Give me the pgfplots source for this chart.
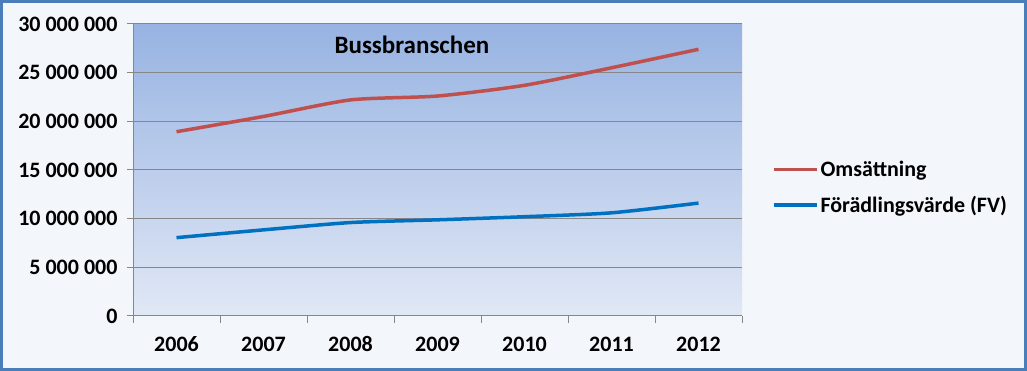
\documentclass[border=0pt]{standalone}
\usepackage{fontspec}
\setmainfont{Carlito}
\usepackage{pgfplots}
\pgfplotsset{compat=1.18}
\definecolor{frame}{HTML}{4A7EBB}
\definecolor{outerbg}{HTML}{F3F6FB}
\definecolor{topc}{HTML}{97B3E2}
\definecolor{botc}{HTML}{E1E8F5}
\definecolor{redl}{HTML}{C0504D}
\definecolor{bluel}{HTML}{0070C0}
\definecolor{gridc}{HTML}{878787}
\newcommand{\cf}{\fontsize{22}{26}\selectfont\bfseries}
\begin{document}
\begin{tikzpicture}
\useasboundingbox (0,0) rectangle (1027pt,371pt);
\draw[frame, line width=3pt, fill=outerbg] (1.5pt,1.5pt) rectangle (1025.5pt,369.5pt);
\begin{axis}[
  at={(133pt,55pt)}, anchor=south west,
  scale only axis, width=609pt, height=292pt,
  xmin=0.5, xmax=7.5, ymin=0, ymax=30000000,
  scaled y ticks=false,
  axis background/.style={top color=topc, bottom color=botc},
  axis x line*=bottom, axis y line*=left,
  axis line style={-, draw=gridc, line width=1pt},
  ymajorgrids, grid style={gridc, line width=1pt},
  tick align=outside,
  tick style={gridc, line width=1pt},
  major tick length=6pt,
  minor tick length=7pt,
  xtick={1,...,7},
  xticklabels={2006,2007,2008,2009,2010,2011,2012},
  major x tick style={draw=none},
  minor xtick={0.5,1.5,...,7.5},
  ytick={0,5000000,10000000,15000000,20000000,25000000,30000000},
  yticklabels={0,5 000 000,10 000 000,15 000 000,20 000 000,25 000 000,30 000 000},
  ticklabel style={font=\cf, text=black},
  xticklabel style={anchor=base, yshift=-30pt},
  yticklabel style={xshift=-6pt},
  legend style={at={(1.049,0.44)}, anchor=west, draw=none, fill=none, font=\cf,
    row sep=14pt, inner sep=0pt},
  legend cell align=left,
  legend image code/.code={\draw[#1, line width=3.5pt] (0pt,0pt) -- (43pt,0pt);},
]
\addplot[redl, line width=3.5pt, smooth, tension=0.4] coordinates {
  (1,18930000) (2,20500000) (3,22200000) (4,22600000) (5,23700000) (6,25500000) (7,27400000)};
\addlegendentry{Omsättning}
\addplot[bluel, line width=3.5pt, smooth, tension=0.4] coordinates {
  (1,8050000) (2,8850000) (3,9600000) (4,9880000) (5,10200000) (6,10600000) (7,11600000)};
\addlegendentry{Förädlingsvärde (FV)}
\node[font=\fontsize{25}{30}\selectfont\bfseries] at (rel axis cs:0.458,0.928) {Bussbranschen};
\end{axis}
\end{tikzpicture}
\end{document}
